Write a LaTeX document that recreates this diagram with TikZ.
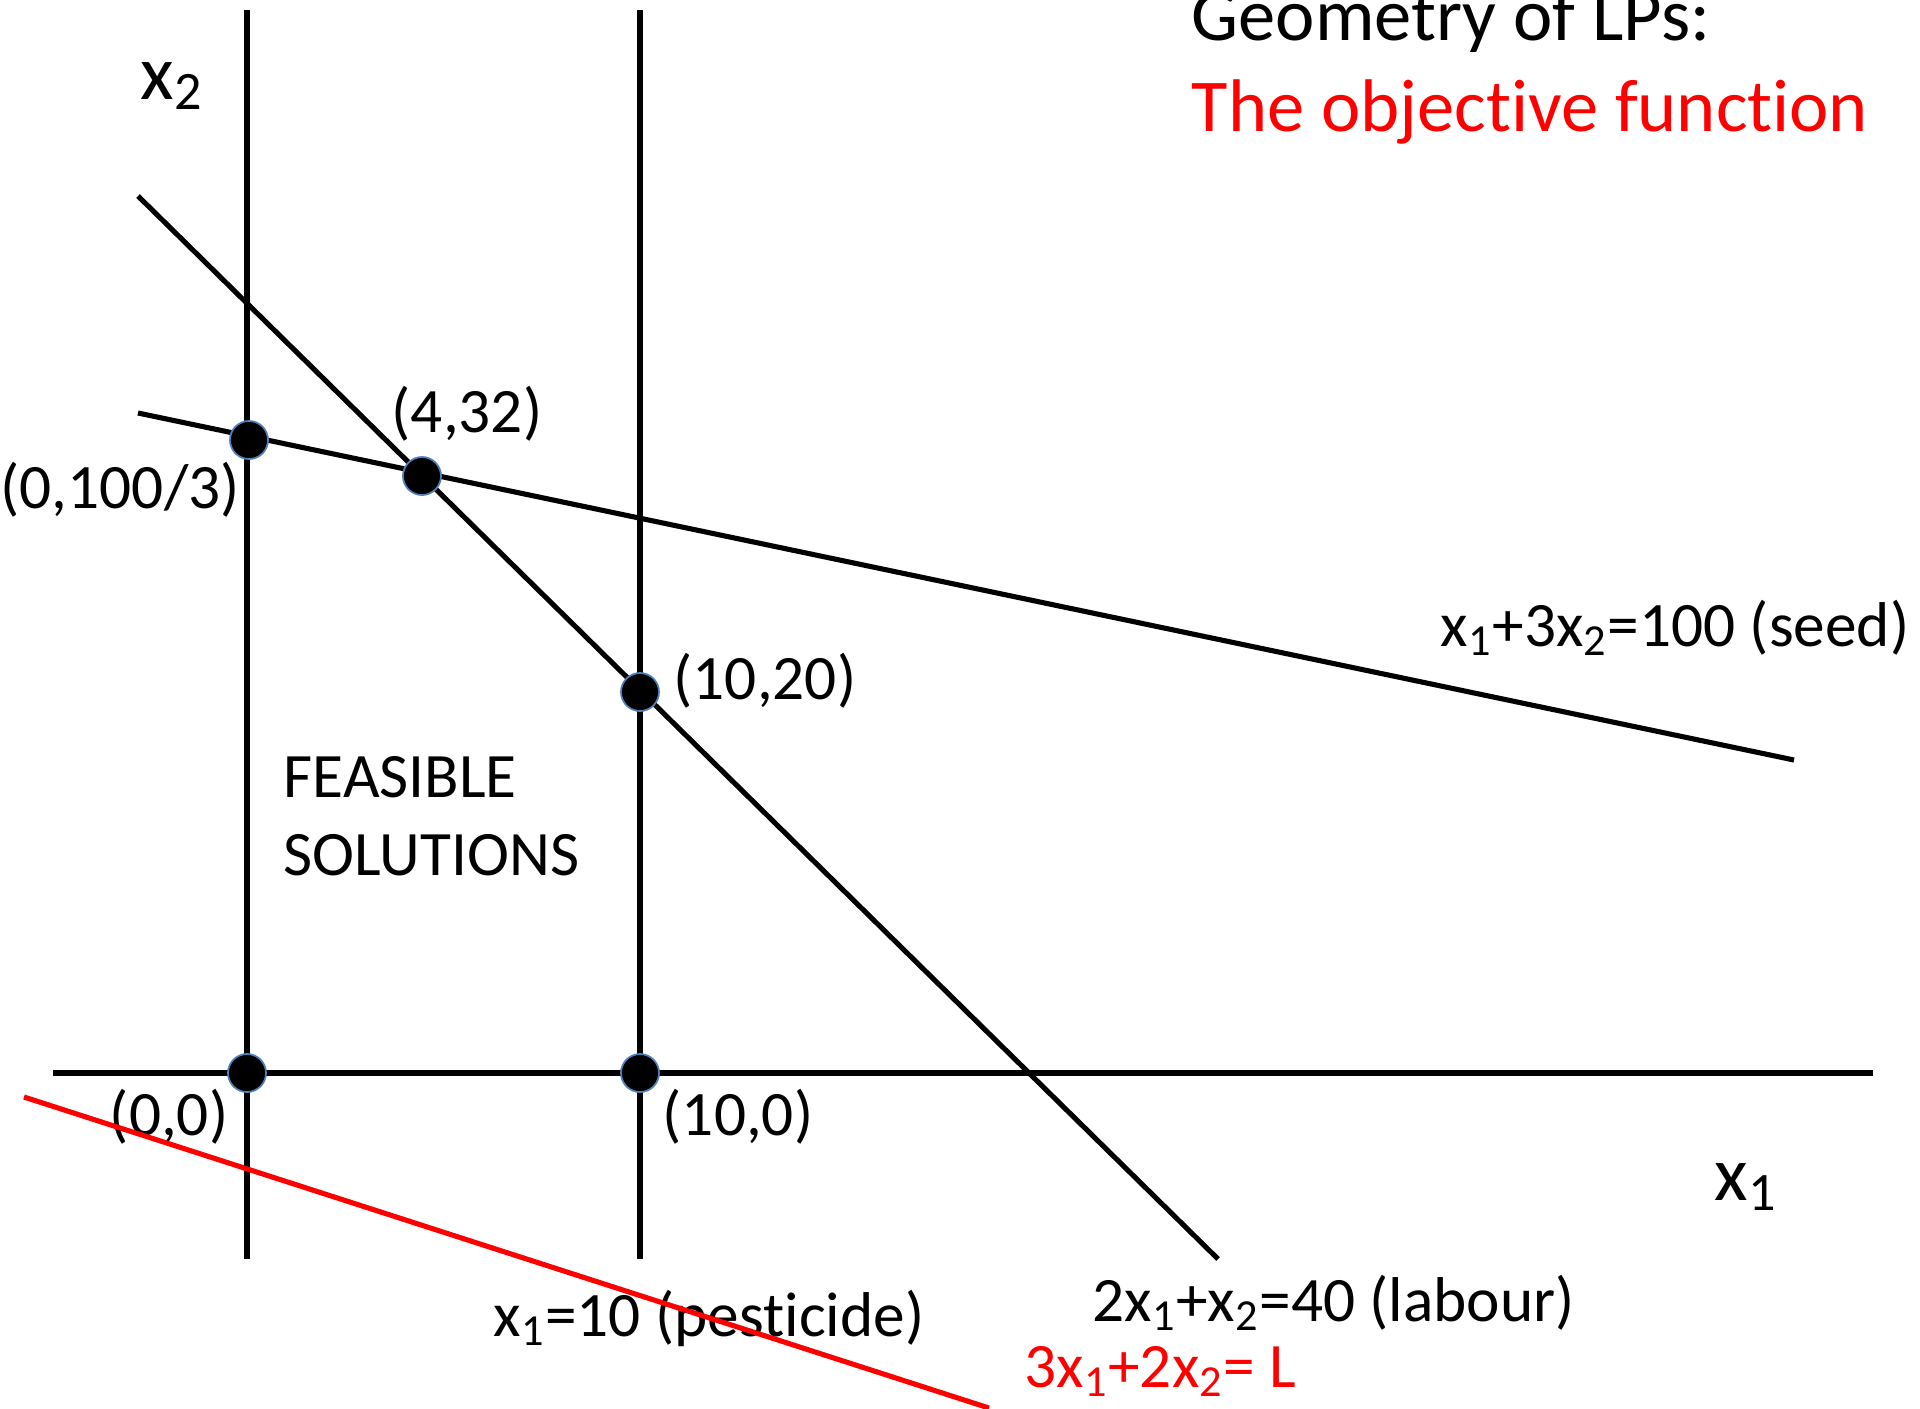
\documentclass[tikz,border=0pt]{standalone}
\usepackage{fontspec}
\setmainfont[Ligatures={NoCommon}]{Carlito}
\usepackage{xcolor}
\usetikzlibrary{positioning}

\definecolor{objred}{HTML}{FF0000}
\definecolor{rimblue}{HTML}{4F81BD}

\tikzset{
	constraint/.style={line width=1.45pt, black},
	objective/.style={line width=1.45pt, objred},
	vertex/.style={circle, fill=black, draw=rimblue, line width=0.5pt, minimum size=0.38cm, inner sep=0pt},
	lbl/.style={font=\fontsize{18}{22}\selectfont, inner sep=0pt},
	axislbl/.style={font=\fontsize{22}{26}\selectfont, inner sep=0pt},
	headline/.style={font=\fontsize{21.2}{25}\selectfont, inner sep=0pt, anchor=base west}
}

\begin{document}
\begin{tikzpicture}[x=0.01cm, y=-0.01cm, line cap=butt, line join=round]
	\useasboundingbox (0,0) rectangle (1920,1408);
	% ends of the constraint lines
	\coordinate (p1top) at (247,10);
	\coordinate (p1bot) at (247,1259);
	\coordinate (p2top) at (640,10);
	\coordinate (p2bot) at (640,1259);
	\coordinate (axL) at (53,1073);
	\coordinate (axR) at (1873,1073);
	\coordinate (labA) at (138,196);
	\coordinate (labB) at (1218,1259);
	\coordinate (seedA) at (138,413);
	\coordinate (seedB) at (1794,760);
	\coordinate (objA) at (24,1097);
	\coordinate (objB) at (989,1408);
	% constraints
	\draw[constraint] (p1top) -- (p1bot);
	\draw[constraint] (p2top) -- (p2bot);
	\draw[constraint] (axL) -- (axR);
	\draw[constraint] (labA) -- (labB);
	\draw[constraint] (seedA) -- (seedB);
	% corner points
	\node[vertex] (v0) at (247,1073) {};
	\node[vertex] (v10) at (640,1073) {};
	\node[vertex] (vseed) at (249,440) {};
	\node[vertex] (v432) at (422,476) {};
	\node[vertex] (v1020) at (640,692) {};
	% labels
	\node[axislbl] (xtwo) at (172,86) {x\textsubscript{2}};
	\node[axislbl] (xone) at (1746,1187) {x\textsubscript{1}};
	\node[lbl] (l432) at (467,414) {(4,32)};
	\node[lbl, anchor=west] (lseed0) at (0,490) {(0,100/3)};
	\node[lbl, anchor=west] (l1020) at (673,681) {(10,20)};
	\node[lbl, align=left, anchor=north west] (feas) at (283,756) {FEASIBLE\\SOLUTIONS};
	\node[lbl] (l00) at (169,1117) {(0,0)};
	\node[lbl] (l100) at (738,1117) {(10,0)};
	\node[lbl, anchor=east] (lseed) at (1910,628) {x\textsubscript{1}+3x\textsubscript{2}=100 (seed)};
	\node[lbl, anchor=west] (lpest) at (493,1318) {x\textsubscript{1}=10 (pesticide)};
	\node[lbl, anchor=west] (llab) at (1092,1303) {2x\textsubscript{1}+x\textsubscript{2}=40 (labour)};
	\node[lbl, anchor=west, text=objred] (lobj) at (1024,1371) {3x\textsubscript{1}+2x\textsubscript{2}= L};
	\node[headline] (title) at (1191,40) {Geometry of LPs:};
	\node[headline, text=objred] (subtitle) at (1191,131) {The objective function};
	% objective line on top
	\draw[objective] (objA) -- (objB);
\end{tikzpicture}
\end{document}
